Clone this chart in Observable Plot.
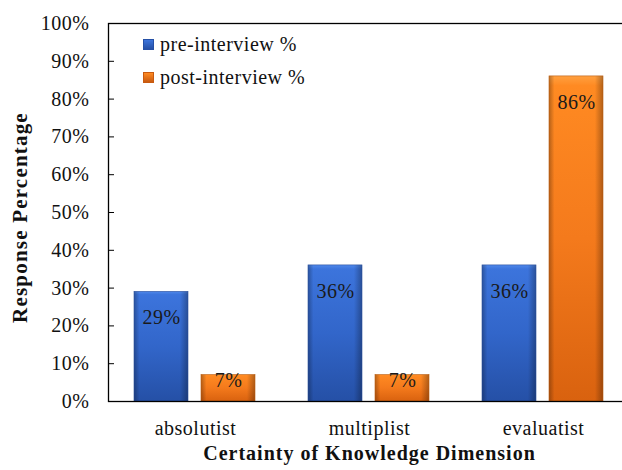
<!DOCTYPE html>
<html><head><meta charset="utf-8">
<style>
body{margin:0;background:#fff;font-family:'Liberation Serif';}
#wrap{position:relative;width:622px;height:470px;overflow:hidden;font-family:'Liberation Serif';}
#chart svg{max-width:none !important;}
#legend{position:absolute;left:143px;top:28px;font-size:20px;letter-spacing:0.5px;color:#111;font-family:'Liberation Serif';}
.item{display:flex;align-items:center;height:33px;}
.sw{width:11px;height:11px;margin-right:6px;box-sizing:border-box;}
</style>
<script src="https://cdn.jsdelivr.net/npm/d3@7"></script>
<script src="https://cdn.jsdelivr.net/npm/@observablehq/plot@0.6"></script>
</head><body><div id="wrap"><div id="chart"></div><div id="legend"></div></div>
<script>
const categories = ["absolutist", "multiplist", "evaluatist"];
const series = ["pre-interview %", "post-interview %"];
const preValues = [29, 36, 36];
const postValues = [7, 7, 86];
const yTicks = [0, 10, 20, 30, 40, 50, 60, 70, 80, 90, 100];
const xTitle = "Certainty of Knowledge Dimension";
const yTitle = "Response Percentage";

const data = categories.flatMap((c, i) => [
  {category: c, series: series[0], value: preValues[i]},
  {category: c, series: series[1], value: postValues[i]}
]);

const FONT = "Liberation Serif";

const chart = Plot.plot({
  width: 630, height: 470,
  marginTop: 23, marginBottom: 69, marginLeft: 108, marginRight: 0,
  style: {fontFamily: FONT, fontSize: "20px", color: "#111", background: "transparent", letterSpacing: "0.5px", maxWidth: "none"},
  fx: {domain: categories, padding: 0, label: null},
  x: {domain: series, paddingInner: 0.191, paddingOuter: 0.375, axis: null},
  y: {domain: [0, 100], label: null},
  color: {domain: series, range: ["url(#gBlue)", "url(#gOrange)"]},
  marks: [
    Plot.barY(data, {fx: "category", x: "series", y: "value", fill: "series"}),
    Plot.barY(data, {fx: "category", x: "series", y: "value", fill: "url(#gShade)", stroke: d => d.series === series[0] ? "#2a4f9a" : "#b85a10", strokeWidth: 0.6}),
    Plot.text(data, {fx: "category", x: "series", y: d => Math.max(d.value, 12.5), dy: 26, text: d => d.value + "%", fill: "#1a1a1a", fontSize: 20, fontFamily: FONT}),
    Plot.frame({facet: "super", stroke: "#000", strokeWidth: 1.3}),
    Plot.axisY(yTicks, {tickSize: 0, tickPadding: 19, tickFormat: d => d + "%", label: null, fill: "#111", fontFamily: FONT}),
    Plot.axisY(yTicks, {tickSize: -6, text: null, label: null, stroke: "#000"}),
    Plot.axisFx({anchor: "bottom", tickSize: 0, tickPadding: 19, label: null, fill: "#111", fontFamily: FONT}),
    Plot.text([xTitle], {facet: "super", frameAnchor: "bottom", dy: 58, text: d => d, fontWeight: "bold", fontSize: 20, fill: "#111", fontFamily: FONT}),
    Plot.text([yTitle], {facet: "super", frameAnchor: "left", textAnchor: "middle", dx: -88, dy: 5, rotate: -90, text: d => d, fontWeight: "bold", fontSize: 21, fill: "#111", fontFamily: FONT})
  ]
});

const defs = `<defs>
<linearGradient id="gBlue" x1="0" y1="0" x2="0" y2="1">
  <stop offset="0" stop-color="#4f88ea"/><stop offset="0.03" stop-color="#3c74dc"/><stop offset="0.5" stop-color="#3266ca"/><stop offset="1" stop-color="#2550a6"/>
</linearGradient>
<linearGradient id="gOrange" x1="0" y1="0" x2="0" y2="1">
  <stop offset="0" stop-color="#ffa040"/><stop offset="0.03" stop-color="#ff8a22"/><stop offset="0.5" stop-color="#f47a1c"/><stop offset="1" stop-color="#d9620f"/>
</linearGradient>
<linearGradient id="gShade" x1="0" y1="0" x2="1" y2="0">
  <stop offset="0" stop-color="#000" stop-opacity="0.28"/><stop offset="0.1" stop-color="#000" stop-opacity="0"/><stop offset="0.85" stop-color="#000" stop-opacity="0"/><stop offset="1" stop-color="#000" stop-opacity="0.3"/>
</linearGradient>
</defs>`;
const svg = chart.tagName.toLowerCase() === "svg" ? chart : chart.querySelector("svg");
svg.insertAdjacentHTML("afterbegin", defs);
svg.style.maxWidth = "none";
document.getElementById("chart").appendChild(chart);
svg.querySelectorAll("text").forEach(t => {
  if (t.textContent === xTitle) t.style.letterSpacing = "1px";
  if (t.textContent === yTitle) t.style.letterSpacing = "1.2px";
});

const swColors = [["#3c74dc", "#2550a6"], ["#ff8a22", "#c85a10"]];
const legend = d3.select("#legend");
series.forEach((s, i) => {
  const it = legend.append("div").attr("class", "item");
  it.append("div").attr("class", "sw").style("background", `linear-gradient(${swColors[i][0]}, ${swColors[i][1]})`).style("border", `1px solid ${swColors[i][1]}`);
  it.append("span").text(s);
});
</script></body></html>
